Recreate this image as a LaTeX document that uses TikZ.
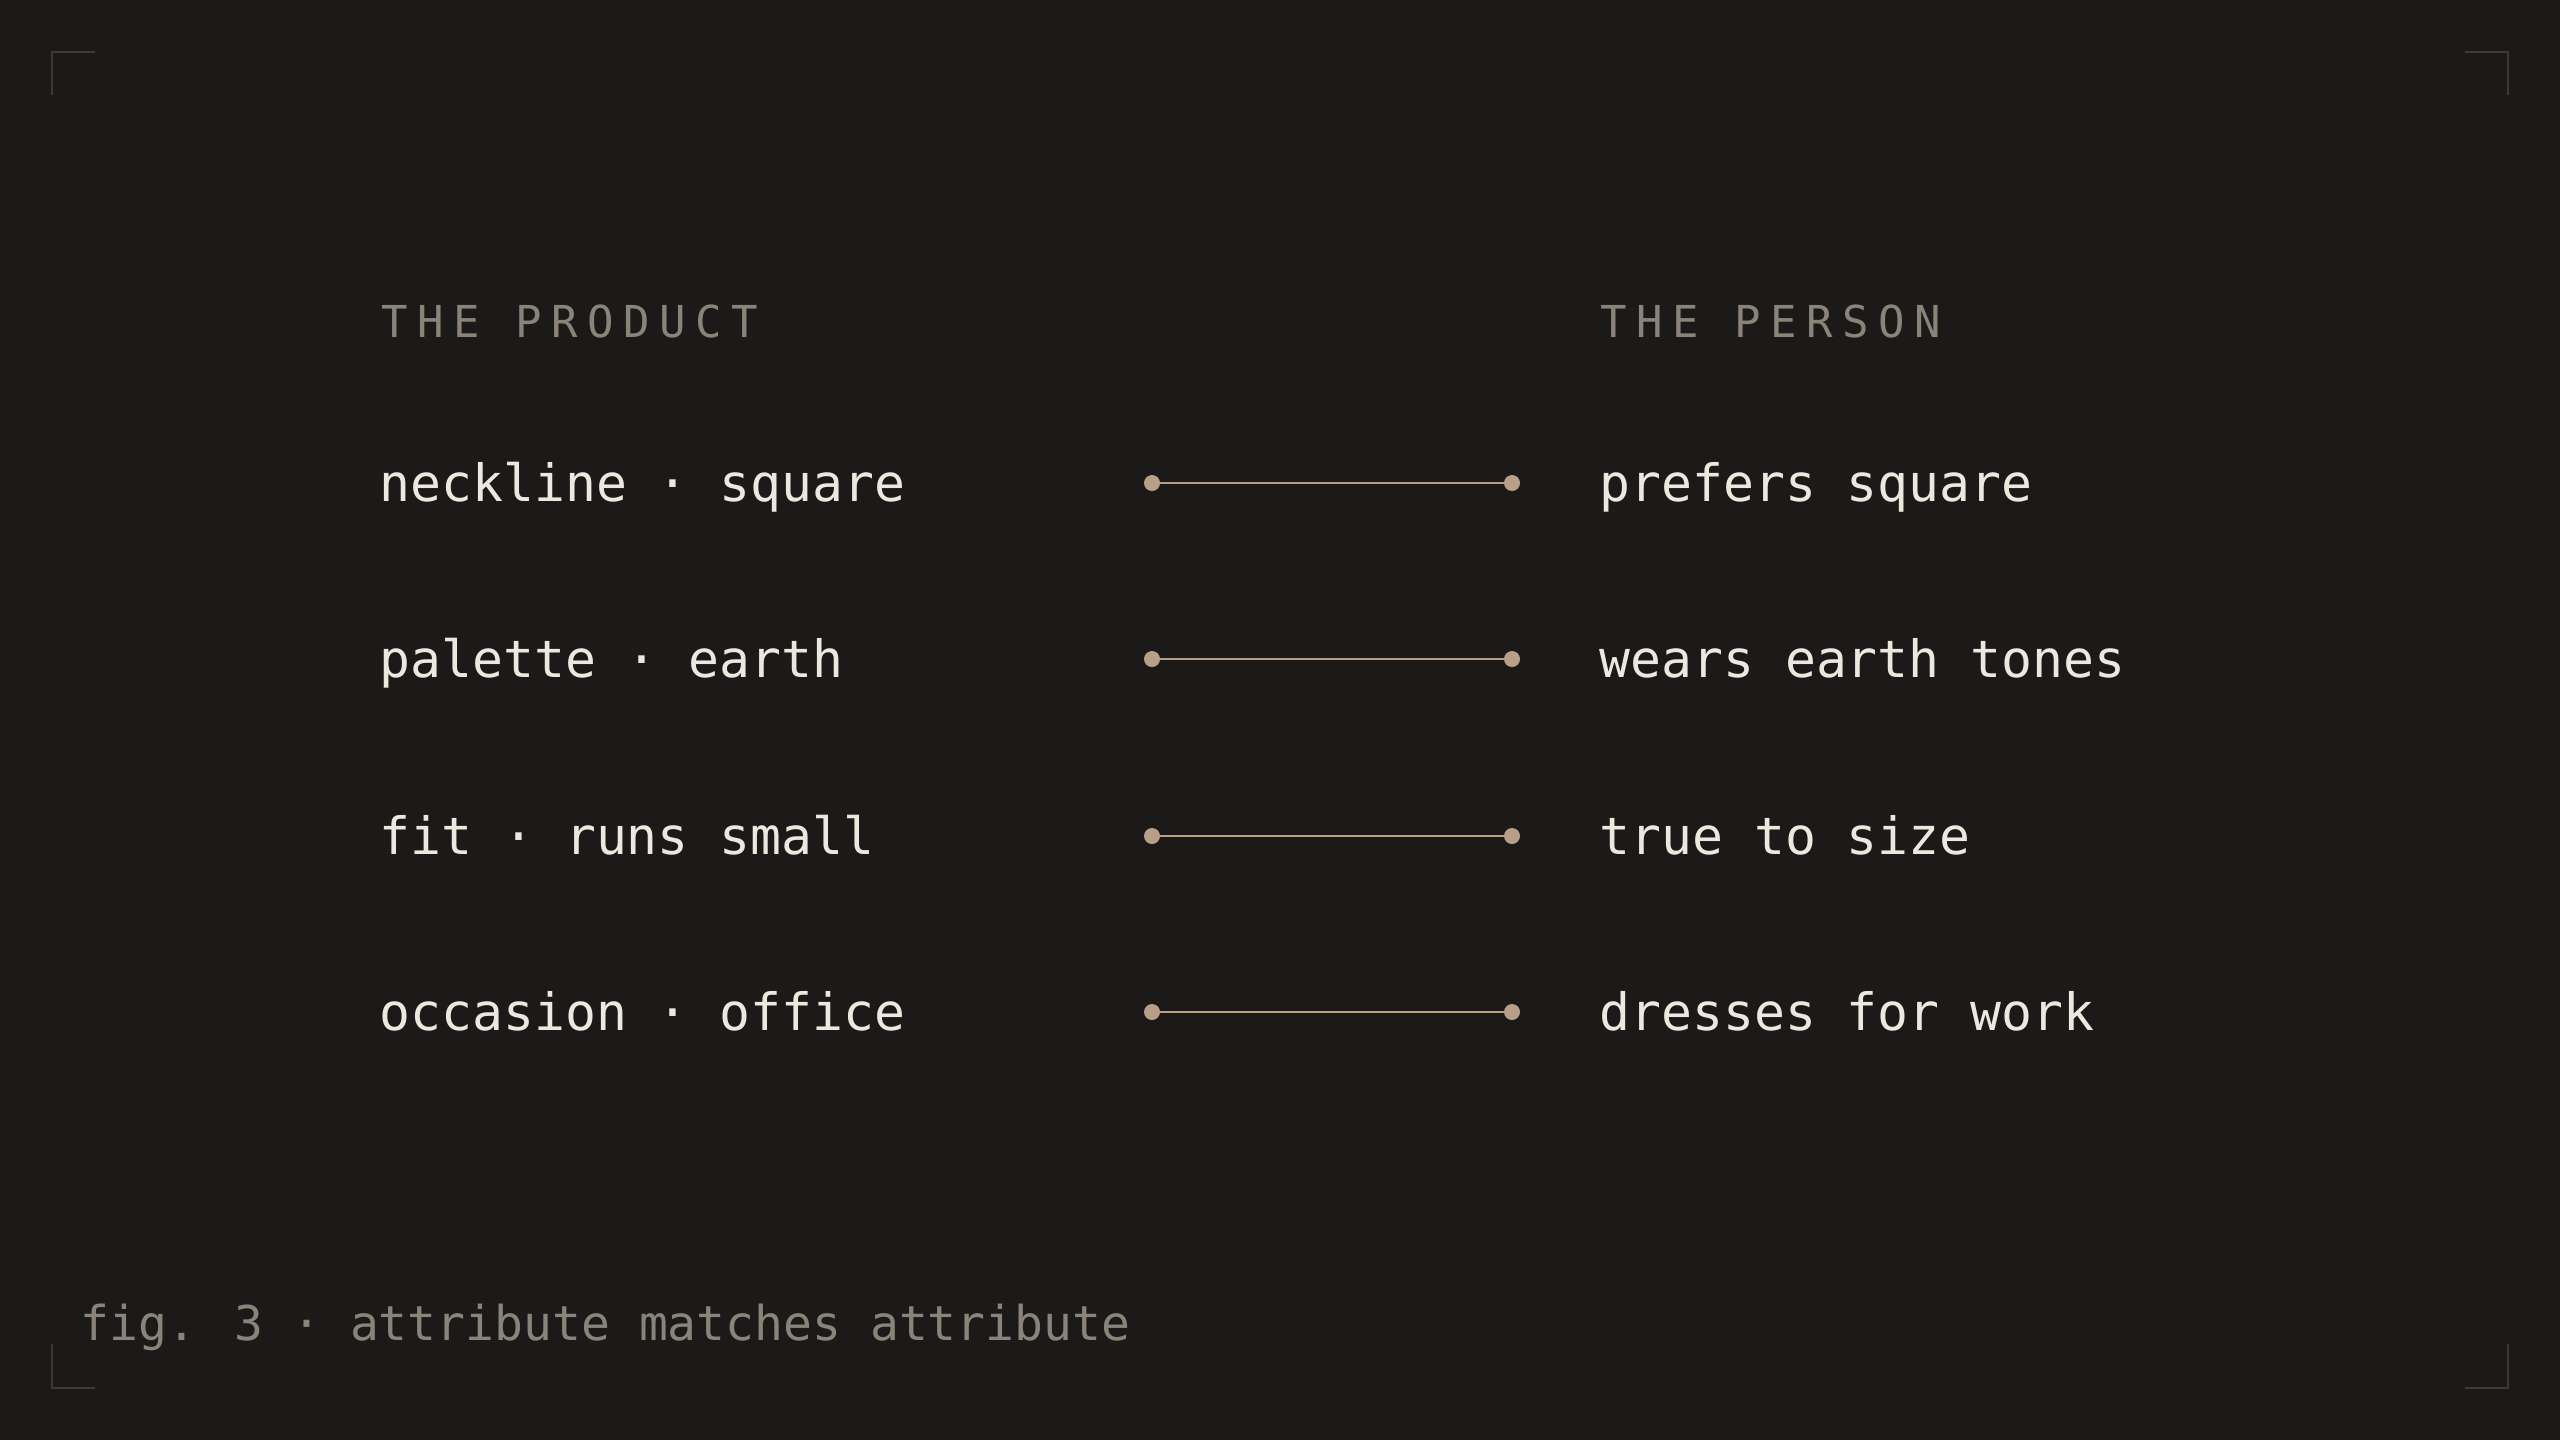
\documentclass[tikz,border=0pt]{standalone}
\usepackage{fontspec}
\setmonofont{DejaVu Sans Mono}
\newfontfamily\bodyfont{DejaVu Sans Mono}
\newfontfamily\headfont[LetterSpace=21.5]{DejaVu Sans Mono}
\definecolor{bgc}{HTML}{1B1A18}
\definecolor{inkc}{HTML}{EDE8DF}
\definecolor{dimc}{HTML}{8A8379}
\definecolor{tanc}{HTML}{B8A088}
\definecolor{cornc}{HTML}{3D3935}
\tikzset{
  heading/.style={anchor=base west, inner sep=0pt, text=dimc, font=\headfont\fontsize{22pt}{26pt}\selectfont},
  item/.style={anchor=base west, inner sep=0pt, text=inkc, font=\bodyfont\fontsize{25.7pt}{30pt}\selectfont},
  caption/.style={anchor=base west, inner sep=0pt, text=dimc, font=\bodyfont\fontsize{24pt}{28pt}\selectfont},
  enddot/.style={circle, fill=tanc, inner sep=0pt, minimum size=8pt},
  link/.style={draw=tanc, line width=1.2pt},
  cornerline/.style={draw=cornc, line width=0.6pt}
}
\begin{document}
\begin{tikzpicture}[x=0.5pt,y=-0.5pt]
\fill[bgc] (0,0) rectangle (2560,1440);
\useasboundingbox (0,0) rectangle (2560,1440);
% corner marks
\draw[cornerline] (52,95) -- (52,52) -- (95,52);
\draw[cornerline] (2465,52) -- (2508,52) -- (2508,95);
\draw[cornerline] (52,1344) -- (52,1388) -- (95,1388);
\draw[cornerline] (2465,1388) -- (2508,1388) -- (2508,1344);
% headings
\node[heading] (hprod) at (381,337) {THE PRODUCT};
\node[heading] (hpers) at (1600,337) {THE PERSON};
% left items
\node[item] (p1) at (379,501) {neckline · square};
\node[item] (p2) at (379,677) {palette · earth};
\node[item] (p3) at (379,854) {fit · runs small};
\node[item] (p4) at (379,1030) {occasion · office};
% right items
\node[item] (q1) at (1599,501) {prefers square};
\node[item] (q2) at (1599,677) {wears earth tones};
\node[item] (q3) at (1599,854) {true to size};
\node[item] (q4) at (1599,1030) {dresses for work};
% connectors
\foreach \i/\y in {1/483,2/659,3/836,4/1012}{
  \node[enddot] (l\i) at (1152,\y) {};
  \node[enddot] (r\i) at (1512,\y) {};
  \draw[link] (l\i) -- (r\i);
}
% caption
\node[caption] (cap) at (80,1340) {fig. 3 · attribute matches attribute};
\end{tikzpicture}
\end{document}
